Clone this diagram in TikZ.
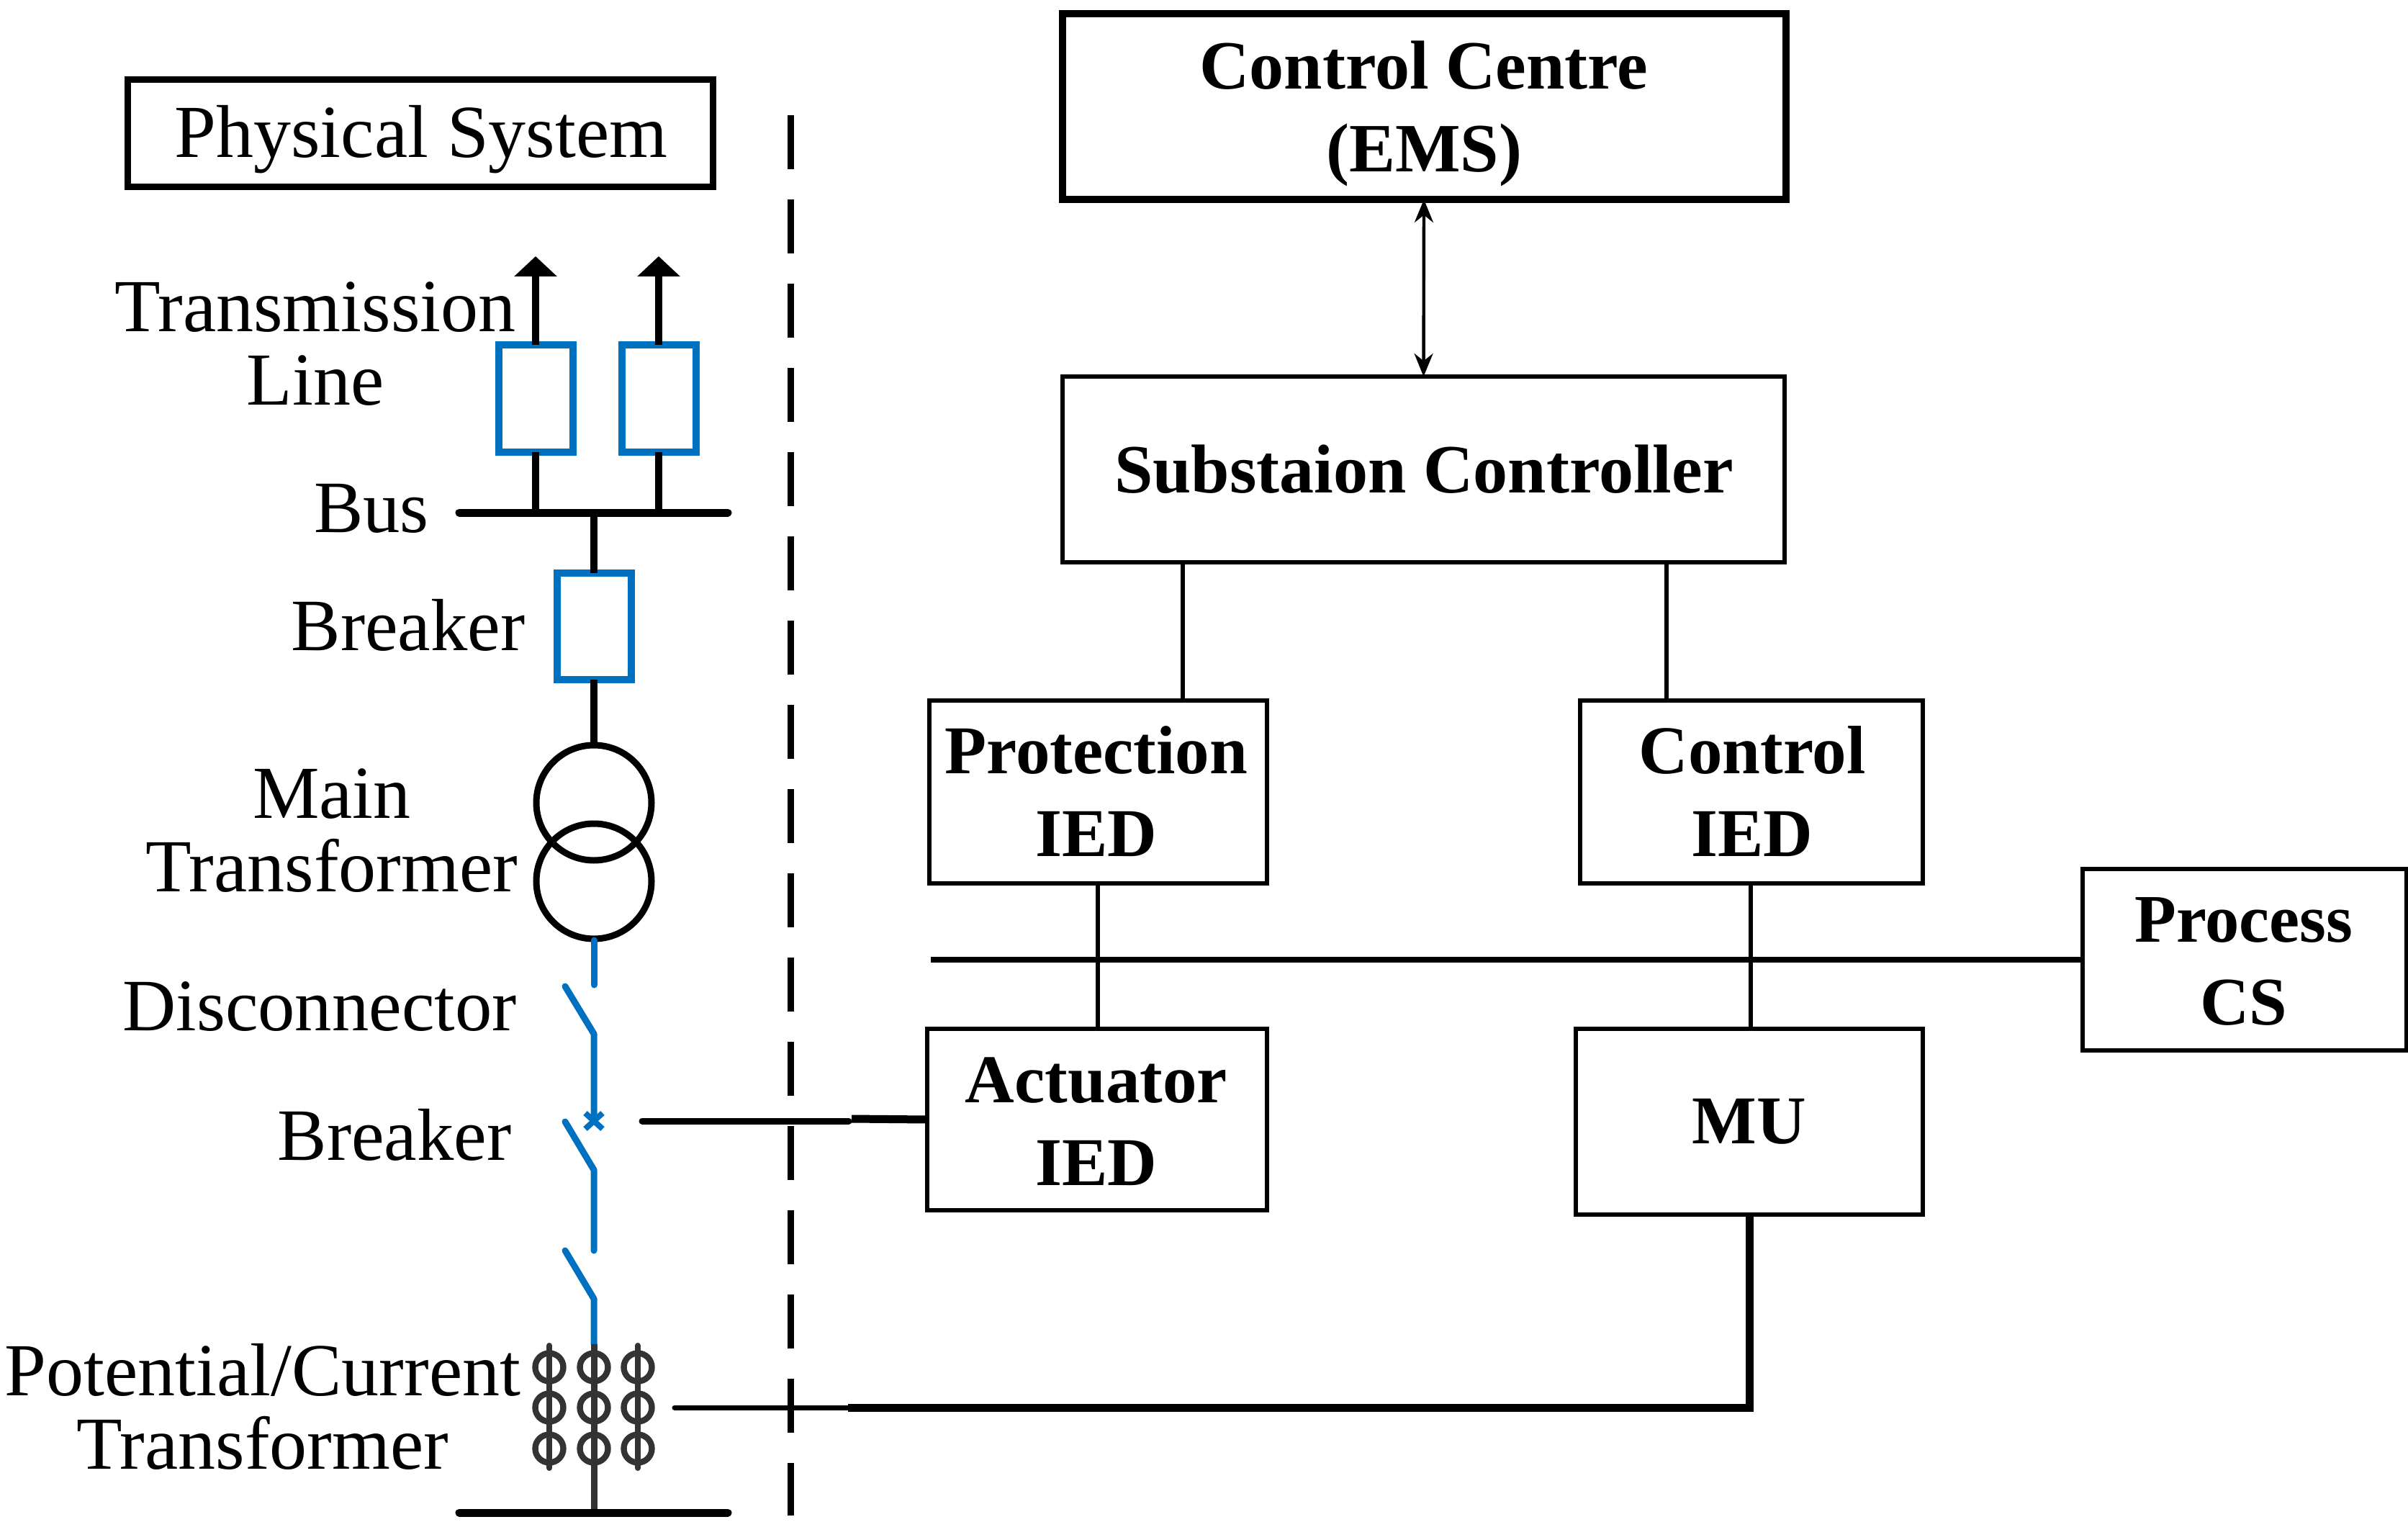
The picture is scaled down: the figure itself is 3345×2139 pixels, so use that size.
\documentclass[tikz,border=0pt]{standalone}
\usepackage{fontspec}
\setmainfont{Liberation Serif}
\usetikzlibrary{arrows.meta,calc}
\definecolor{bluel}{HTML}{0070C0}
\definecolor{darkl}{HTML}{333333}
\tikzset{
  x=0.5pt,y=-0.5pt,
  boxed/.style={draw=black,fill=white,inner sep=0pt,outer sep=0pt,line width=2.7pt,align=center,
    font=\fontsize{48}{57.5}\selectfont\bfseries},
  lab/.style={inner sep=0pt,outer sep=0pt,align=center,font=\fontsize{52}{51}\selectfont},
  labs/.style={lab,font=\fontsize{51.3}{51}\selectfont},
  bluebox/.style={draw=bluel,inner sep=0pt,outer sep=0pt,line width=5pt,minimum width=51.5pt,minimum height=74pt},
  wire/.style={line width=5pt,black},
  thin wire/.style={line width=2.8pt,black},
  blue wire/.style={line width=4.5pt,bluel,line cap=round},
  ring/.style={draw=darkl,circle,inner sep=0pt,outer sep=0pt,line width=4.2pt,minimum size=19.5pt},
  xfmr/.style={draw=black,circle,inner sep=0pt,outer sep=0pt,line width=4.5pt,minimum size=80pt},
}
\begin{document}
\begin{tikzpicture}
\useasboundingbox (0,0) rectangle (3345,2139);
% dashed divider
\coordinate (dtop) at (1098,160);
\coordinate (dbot) at (1098,2105);
\draw[line width=4.5pt,dash pattern=on 37.5pt off 21pt,dash phase=0pt] (dtop) -- (dbot);

% right-hand boxes
\node[boxed,line width=5pt,minimum width=502.5pt,minimum height=129pt] (cc) at (1978,148) {};
\node[boxed,minimum width=501.5pt,minimum height=129pt] (sub) at (1977.5,652) {};
\node[boxed,minimum width=234.5pt,minimum height=127pt] (prot) at (1525.5,1100) {};
\node[boxed,minimum width=238pt,minimum height=127pt] (ctrl) at (2433,1100) {};
\node[boxed,minimum width=225pt,minimum height=126pt] (proc) at (3118,1333) {};
\node[boxed,minimum width=236pt,minimum height=126pt] (act) at (1524,1555) {};
\node[boxed,minimum width=241pt,minimum height=129pt] (mu) at (2430,1558) {};
\node[lab,font=\fontsize{48}{57.5}\selectfont\bfseries] (cct) at (1978,158) {Control Centre\\(EMS)};
\node[lab,font=\fontsize{48}{57.5}\selectfont\bfseries] (subt) at (1978,652) {Substaion Controller};
\node[lab,font=\fontsize{47.5}{57.5}\selectfont\bfseries] (prott) at (1523,1099) {Protection\\IED};
\node[lab,font=\fontsize{47.5}{57.5}\selectfont\bfseries] (ctrlt) at (2434,1099) {Control\\IED};
\node[lab,font=\fontsize{47.3}{57.5}\selectfont\bfseries] (proct) at (3117,1335) {Process\\CS};
\node[lab,font=\fontsize{47.5}{57.5}\selectfont\bfseries] (actt) at (1523,1558) {Actuator\\IED};
\node[lab,font=\fontsize{47.5}{57.5}\selectfont\bfseries] (mut) at (2430,1558) {MU};
\draw[line width=2.2pt,{Stealth[length=16pt,width=13pt]}-{Stealth[length=16pt,width=13pt]}] (cc.south) -- (sub.north);
\coordinate (c1) at (1643,800);
\coordinate (c2) at (2315,800);
\coordinate (c3) at (1525,1300);
\coordinate (c4) at (2432,1300);
\coordinate (pb) at (1293,1333);
\draw[thin wire] (sub.south -| c1) -- (prot.north -| c1);
\draw[thin wire] (sub.south -| c2) -- (ctrl.north -| c2);
\draw[thin wire] (prot.south -| c3) -- (act.north -| c3);
\draw[thin wire] (ctrl.south -| c4) -- (mu.north -| c4);
\draw[line width=4pt] (pb) -- (pb -| proc.west);

% physical side labels
\node[boxed,line width=4.5pt,minimum width=406.5pt,minimum height=74.5pt] (ps) at (583.5,185.5) {};
\node[lab,font=\fontsize{52}{52}\selectfont] (pst) at (585,194) {Physical System};
\node[lab] (t1) at (438,478) {Transmission\\Line};
\node[labs] (t2) at (516,706) {Bus};
\node[labs] (t3) at (567,868) {Breaker};
\node[lab] (t4) at (461,1154) {Main\\Transformer};
\node[labs] (t5) at (444,1398) {Disconnector};
\node[labs] (t6) at (548,1576) {Breaker};
\node[lab] (t7) at (365,1954) {Potential/Current\\Transformer};

% one-line diagram
\coordinate (bl) at (638,712);
\coordinate (br) at (1011,712);
\coordinate (a1) at (744,356);
\coordinate (a2) at (915,356);
\coordinate (mid) at (825,712);
\node[bluebox] (b1) at (744,553.5) {};
\node[bluebox] (b2) at (915,553.5) {};
\node[bluebox] (b3) at (825,869.5) {};
\node[xfmr] (x1) at (825,1115) {};
\node[xfmr] (x2) at (825,1224) {};
\draw[line width=5.5pt,line cap=round] (bl) -- (br);
\draw[wire,-{Triangle[length=14pt,width=29pt]}] (b1.north) -- (a1);
\draw[wire,-{Triangle[length=14pt,width=29pt]}] (b2.north) -- (a2);
\draw[wire] (b1.south) -- (b1.south |- bl);
\draw[wire] (b2.south) -- (b2.south |- bl);
\draw[wire] (mid) -- (b3.north);
\draw[wire] (b3.south) -- (x1.north);

% switches (blue)
\coordinate (s0) at (825,1306);
\coordinate (s1a) at (825,1368);
\coordinate (s1b) at (785,1370);
\coordinate (s1c) at (825,1436);
\coordinate (s1d) at (825,1551);
\coordinate (s2b) at (785,1558);
\coordinate (s2c) at (825,1625);
\coordinate (s2d) at (825,1737);
\coordinate (s3b) at (785,1737);
\coordinate (s3c) at (825,1804);
\coordinate (s3d) at (825,1867);
\coordinate (cr) at (825,1557);
\draw[blue wire] (s0) -- (s1a);
\draw[blue wire,line join=round] (s1b) -- (s1c) -- (s1d);
\draw[blue wire,line join=round] (s2b) -- (s2c) -- (s2d);
\draw[blue wire,line join=round] (s3b) -- (s3c) -- (s3d);
\draw[line width=4pt,bluel] ($(cr)+(-12,-11)$) -- ($(cr)+(12,11)$) ($(cr)+(-12,11)$) -- ($(cr)+(12,-11)$);

% potential/current transformers
\coordinate (p1) at (763,1869);
\coordinate (p2) at (825,1867);
\coordinate (p3) at (886,1869);
\coordinate (p1e) at (763,2039);
\coordinate (p3e) at (886,2039);
\coordinate (botm) at (825,2101);
\coordinate (botl) at (638,2101);
\coordinate (botr) at (1011,2101);
\foreach \cx/\nm in {763/a,825/b,886/c}{
  \foreach \cy/\rw in {1899/x,1955/y,2012/z}{
    \node[ring] (r\nm\rw) at (\cx,\cy) {};
  }
}
\draw[line width=4pt,darkl,line cap=round] (p1) -- (p1e);
\draw[line width=4pt,darkl,line cap=round] (p3) -- (p3e);
\draw[line width=4.5pt,darkl] (p2) -- (botm);
\draw[line width=5.5pt,line cap=round] (botl) -- (botr);

% signal wires
\coordinate (sa) at (892,1557);
\coordinate (sb) at (1179,1557);
\coordinate (sc) at (1183,1554);
\coordinate (td) at (937,1955);
\coordinate (te) at (1178,1955);
\draw[line width=4.5pt,line cap=round] (sa) -- (sb);
\draw[line width=5.5pt] (sc) -- (act.west);
\draw[line width=3.5pt,line cap=round] (td) -- (te);
\draw[line width=5.5pt] (te) -| (mu.south);
\end{tikzpicture}
\end{document}
